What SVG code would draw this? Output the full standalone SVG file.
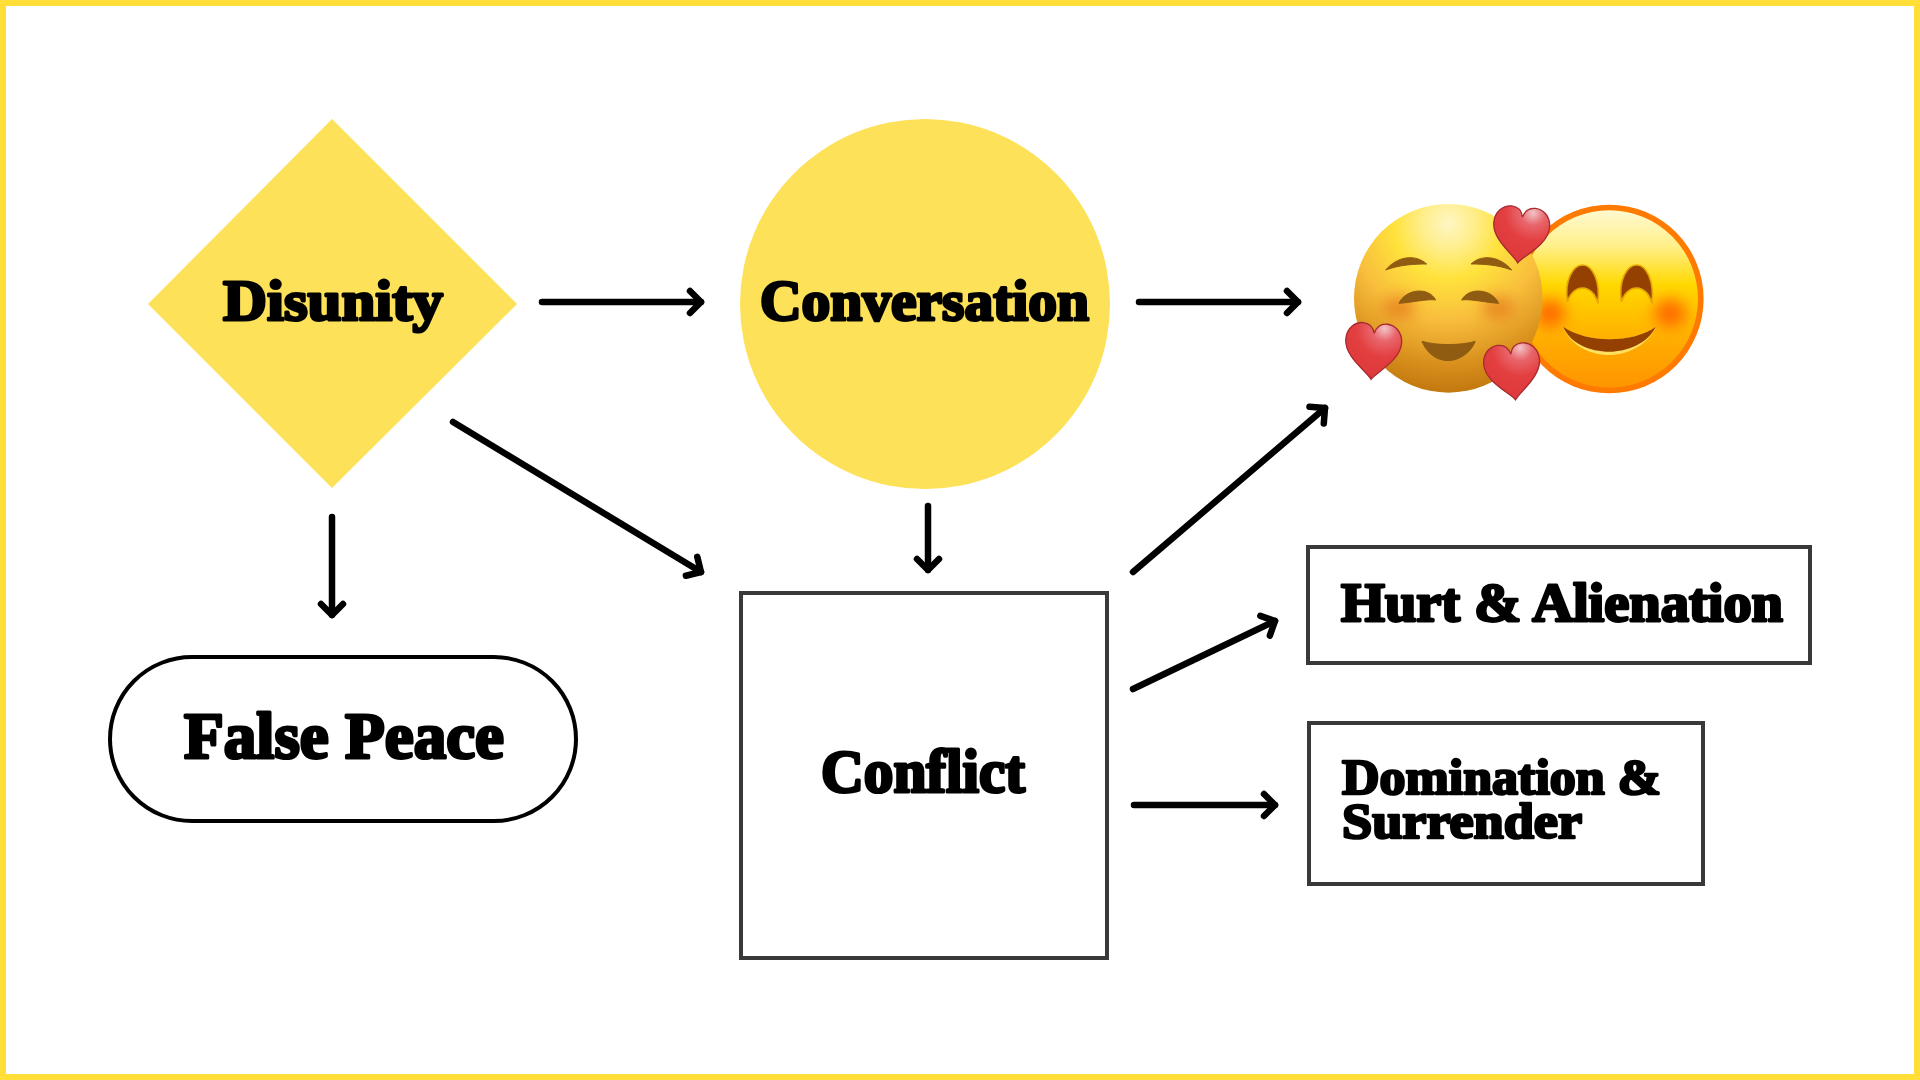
<svg xmlns="http://www.w3.org/2000/svg" width="1920" height="1080" viewBox="0 0 1920 1080">
<style>
.t{font-family:"Liberation Serif",serif;font-weight:700;fill:#000;stroke:#000;stroke-linejoin:round;paint-order:stroke}
.y{fill:#FDE158}
.b{fill:#fff;stroke:#393939;stroke-width:4}
.c{fill:none;stroke:#000;stroke-width:6.5;stroke-linecap:round;marker-end:url(#a)}
</style>
<defs>
<marker id="a" markerUnits="userSpaceOnUse" markerWidth="32" markerHeight="32" refX="22" refY="16" orient="auto" overflow="visible">
<path d="M11,5 L22,16 L11,27" fill="none" stroke="#000" stroke-width="6.5" stroke-linecap="round" stroke-linejoin="round"/>
</marker>
<radialGradient id="lf" gradientUnits="userSpaceOnUse" cx="385" cy="130" r="500">
<stop offset="0" stop-color="#FFF6C4"/><stop offset=".16" stop-color="#FFEE8A"/><stop offset=".33" stop-color="#FFE23C"/><stop offset=".58" stop-color="#F8BE3C"/><stop offset=".85" stop-color="#D88F1C"/><stop offset="1" stop-color="#C47A10"/>
</radialGradient>
<linearGradient id="rf" x1="0" y1="0" x2="0" y2="1">
<stop offset="0" stop-color="#FFF9D0"/><stop offset=".2" stop-color="#FFF08A"/><stop offset=".42" stop-color="#FFD800"/><stop offset=".78" stop-color="#FFA800"/><stop offset="1" stop-color="#FF9500"/>
</linearGradient>
<radialGradient id="h" gradientUnits="userSpaceOnUse" cx="30" cy="-70" r="170">
<stop offset="0" stop-color="#F2C4C8"/><stop offset=".22" stop-color="#E8666C"/><stop offset=".5" stop-color="#E33F40"/><stop offset=".85" stop-color="#DE3A3C"/><stop offset="1" stop-color="#B4202C"/>
</radialGradient>
<filter id="bl" x="-60%" y="-60%" width="220%" height="220%"><feGaussianBlur stdDeviation="22"/></filter>
<path id="hp" d="M0,84 C-14,62 -84,22 -84,-30 C-84,-64 -60,-84 -36,-84 C-16,-84 -4,-70 0,-54 C4,-70 16,-84 36,-84 C60,-84 84,-64 84,-30 C84,22 14,62 0,84Z" fill="url(#h)" stroke="#A82A30" stroke-width="4"/>
</defs>
<rect width="1920" height="1080" fill="#fff"/>
<rect x="3" y="3" width="1914" height="1074" fill="none" stroke="#FFDE37" stroke-width="6"/>
<g id="connectors">
<path class="c" d="M542,302H701"/>
<path class="c" d="M1139,302H1298"/>
<path class="c" d="M453,422L701,572"/>
<path class="c" d="M332,517V615"/>
<path class="c" d="M928,506V570"/>
<path class="c" d="M1133,572L1325,408"/>
<path class="c" d="M1133,689L1275,621"/>
<path class="c" d="M1134,805H1275"/>
</g>
<g id="disunity"><path class="y" d="M332,119L517,304L332,488L148,304Z"/><text class="t" x="223" y="320" font-size="58" stroke-width="3" textLength="220" lengthAdjust="spacingAndGlyphs">Disunity</text></g>
<g id="conversation"><circle class="y" cx="925" cy="304" r="185"/><text class="t" x="760" y="320" font-size="56" stroke-width="3" textLength="329" lengthAdjust="spacingAndGlyphs">Conversation</text></g>
<g id="false-peace"><rect x="110" y="657" width="466" height="164" rx="82" fill="#fff" stroke="#000" stroke-width="4"/><text class="t" x="184" y="758" font-size="66" stroke-width="3.2" textLength="320" lengthAdjust="spacingAndGlyphs">False Peace</text></g>
<g id="conflict"><rect class="b" x="741" y="593" width="366" height="365"/><text class="t" x="821" y="792" font-size="62" stroke-width="3.2" textLength="204" lengthAdjust="spacingAndGlyphs">Conflict</text></g>
<g id="hurt"><rect class="b" x="1308" y="547" width="502" height="116"/><text class="t" x="1341" y="621" font-size="54" stroke-width="2.8" textLength="442" lengthAdjust="spacingAndGlyphs">Hurt &amp; Alienation</text></g>
<g id="domination"><rect class="b" x="1309" y="723" width="394" height="161"/><text class="t" font-size="50" stroke-width="2.6"><tspan x="1342" y="794" textLength="319" lengthAdjust="spacingAndGlyphs">Domination &amp;</tspan><tspan x="1342" y="838" textLength="240" lengthAdjust="spacingAndGlyphs">Surrender</tspan></text></g>
<g id="emoji" transform="translate(1320,180) scale(.3333)">
<g id="smile">
<circle cx="868" cy="357" r="283" fill="#FF7A00"/>
<circle cx="868" cy="357" r="266" fill="url(#rf)"/>
<ellipse cx="690" cy="400" rx="45" ry="42" fill="#FF6A00" filter="url(#bl)"/>
<ellipse cx="1050" cy="400" rx="48" ry="42" fill="#FF6A00" filter="url(#bl)"/>
<path d="M742,365 C732,300 760,255 788,255 C816,255 842,300 834,370 C815,310 762,310 742,365Z M904,365 C894,300 922,255 950,255 C978,255 1004,300 996,370 C977,310 924,310 904,365Z" fill="#944000" stroke="#E8A800" stroke-width="5"/>
<path d="M730,440 C800,490 940,490 1007,440 C985,495 920,525 868,525 C810,525 750,495 730,440Z" fill="#FFE060"/>
<path d="M730,440 C800,490 940,490 1007,440 C985,490 920,515 868,515 C810,515 750,490 730,440Z" fill="#944000"/>
</g>
<g id="blush">
<circle cx="385" cy="355" r="283" fill="url(#lf)"/>
<ellipse cx="235" cy="385" rx="50" ry="35" fill="#E98A22" filter="url(#bl)"/>
<ellipse cx="535" cy="385" rx="50" ry="35" fill="#E98A22" filter="url(#bl)"/>
<g fill="#8F5C12" stroke="#8F5C12" stroke-width="3" stroke-linejoin="round">
<path d="M197,270 C230,230 285,220 320,252 C285,252 240,254 197,270Z"/>
<path d="M575,270 C542,230 487,220 453,252 C487,252 532,254 575,270Z"/>
<path d="M237,370 C255,328 325,318 347,360 C320,356 275,368 237,370Z"/>
<path d="M536,370 C518,328 448,318 425,360 C453,356 498,368 536,370Z"/>
<path d="M306,484 C350,497 420,497 466,484 C450,525 410,542 385,542 C350,542 320,520 306,484Z"/>
</g>
<use href="#hp" transform="translate(602,165) rotate(6)"/>
<use href="#hp" transform="translate(159,514) rotate(4)"/>
<use href="#hp" transform="translate(578,576) rotate(-6)"/>
</g>
</g>
</svg>
